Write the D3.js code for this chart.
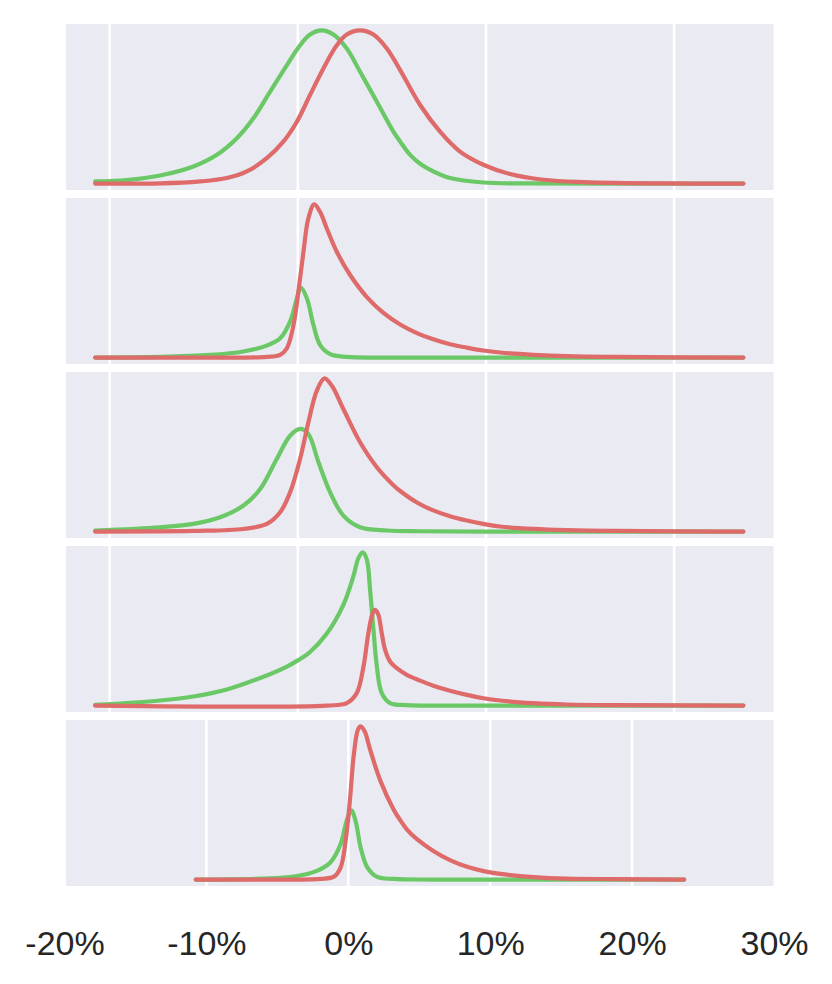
<!DOCTYPE html>
<html><head><meta charset="utf-8">
<script src="https://cdn.jsdelivr.net/npm/d3@7"></script>
<style>body{margin:0;background:#fff}</style>
</head><body><svg id="chart" width="832" height="984"></svg>
<script>
// ---- data (x in %, y = relative density) ----
const xTicks = [-20, -10, 0, 10, 20, 30];
const xTickLabels = ["-20%", "-10%", "0%", "10%", "20%", "30%"];
const gridTicks = [-10, 0, 10, 20];
const topDomain = [-12.32, 25.28];
const bottomDomain = [-20, 30];

const p1Green = [[-10.77,0.014],[-9.09,0.023],[-7.32,0.053],[-5.55,0.112],[-4.30,0.188],[-3.24,0.296],[-2.36,0.426],[-1.47,0.600],[-0.58,0.773],[0.12,0.903],[0.65,0.973],[1.27,1.0],[1.89,0.973],[2.60,0.882],[3.31,0.730],[4.20,0.534],[5.08,0.339],[5.44,0.274],[5.97,0.187],[6.50,0.129],[7.20,0.079],[8.09,0.036],[9.86,0.007],[12.50,0.001],[18.0,0],[23.68,0]];
const p1Red = [[-10.77,0],[-7.32,0.001],[-5.19,0.014],[-3.77,0.036],[-2.71,0.079],[-1.65,0.166],[-0.77,0.274],[-0.05,0.404],[0.65,0.578],[1.36,0.752],[2.07,0.903],[2.60,0.973],[3.31,1.0],[4.02,0.973],[4.73,0.882],[5.44,0.741],[6.50,0.513],[7.56,0.339],[8.62,0.209],[9.86,0.123],[11.28,0.062],[13.05,0.025],[15.18,0.010],[19.61,0.001],[23.68,0]];

const p2Green = [[-10.77,0],[-7.32,0.004],[-4.66,0.017],[-2.89,0.04],[-1.65,0.078],[-0.94,0.126],[-0.41,0.235],[-0.05,0.387],[0.16,0.457],[0.48,0.387],[0.83,0.213],[1.18,0.083],[1.72,0.022],[2.60,0.004],[5,0],[23.68,0]];
const p2Red = [[-10.77,0],[-5.55,0],[-1.65,0.004],[-0.94,0.018],[-0.58,0.061],[-0.23,0.212],[0.03,0.431],[0.30,0.691],[0.56,0.909],[0.87,1.0],[1.18,0.952],[1.54,0.843],[2.07,0.691],[2.78,0.539],[3.67,0.395],[4.55,0.292],[5.44,0.216],[6.33,0.160],[7.20,0.119],[8.09,0.087],[8.98,0.065],[9.86,0.046],[10.75,0.033],[12.52,0.018],[14.29,0.009],[16.95,0.004],[23.68,0]];

const p3Green = [[-10.77,0.007],[-7.32,0.028],[-5.55,0.050],[-4.13,0.093],[-2.89,0.170],[-2.00,0.278],[-1.12,0.474],[-0.41,0.626],[0.12,0.670],[0.56,0.637],[1.10,0.452],[1.72,0.256],[2.42,0.104],[3.31,0.028],[4.73,0.007],[6.50,0.002],[10,0],[23.68,0]];
const p3Red = [[-10.77,0],[-5.55,0.004],[-2.89,0.017],[-1.65,0.05],[-0.94,0.126],[-0.41,0.256],[0.12,0.474],[0.56,0.713],[1.01,0.920],[1.41,1.0],[1.81,0.952],[2.42,0.800],[3.31,0.583],[4.20,0.420],[5.08,0.303],[5.44,0.265],[6.33,0.190],[7.20,0.138],[8.09,0.100],[8.98,0.072],[9.86,0.050],[10.75,0.033],[12.52,0.017],[14.29,0.009],[16.95,0.004],[23.68,0]];

const p4Green = [[-10.77,0.004],[-7.32,0.033],[-5.55,0.059],[-3.77,0.105],[-2.00,0.180],[-0.58,0.255],[0.0,0.295],[0.65,0.350],[1.54,0.470],[2.42,0.658],[2.95,0.843],[3.22,0.963],[3.45,1.0],[3.67,0.952],[3.84,0.756],[4.02,0.495],[4.20,0.255],[4.46,0.081],[4.90,0.016],[5.79,0.003],[8,0],[23.68,0]];
const p4Red = [[-10.77,0],[1.54,0],[2.60,0.016],[3.13,0.081],[3.49,0.255],[3.75,0.473],[3.98,0.603],[4.11,0.625],[4.28,0.593],[4.46,0.473],[4.64,0.364],[4.90,0.288],[5.26,0.244],[5.79,0.201],[6.50,0.163],[7.20,0.130],[8.09,0.097],[8.98,0.070],[9.86,0.048],[10.75,0.033],[12.52,0.016],[14.29,0.007],[16.95,0.003],[23.68,0]];

const p5Green = [[-10.75,0],[-6.17,0.006],[-3.83,0.019],[-2.18,0.058],[-1.25,0.113],[-0.54,0.232],[-0.12,0.383],[0.21,0.452],[0.51,0.383],[0.87,0.210],[1.34,0.080],[2.04,0.017],[3.21,0.004],[6,0],[23.67,0]];
const p5Red = [[-10.75,0],[-6.17,0],[-1.95,0.005],[-1.01,0.019],[-0.54,0.080],[-0.19,0.253],[0.11,0.513],[0.39,0.816],[0.68,0.979],[0.87,1.0],[1.15,0.968],[1.57,0.838],[2.27,0.643],[3.21,0.455],[3.68,0.385],[4.15,0.325],[4.86,0.262],[6.02,0.185],[7.20,0.125],[8.37,0.083],[9.54,0.055],[10.72,0.037],[13.06,0.016],[15.40,0.006],[18.93,0.003],[23.67,0]];

const greenSeries = [p1Green, p2Green, p3Green, p4Green, p5Green];
const redSeries = [p1Red, p2Red, p3Red, p4Red, p5Red];

// ---- layout ----
const svg = d3.select("#chart");
const W = 832, H = 984;
svg.append("rect").attr("width", W).attr("height", H).attr("fill", "#ffffff");

const panelLeft = 66, panelRight = 773.5;
const panelTops = [24, 198, 372, 546, 720];
const panelH = 166;
const GREEN = "#6ac866", RED = "#de6a6a", BG = "#eaeaf2";

const xTop = d3.scaleLinear().domain(topDomain).range([panelLeft, panelRight]);
const xBottom = d3.scaleLinear().domain(bottomDomain).range([64.5, 774]);

panelTops.forEach((top, i) => {
  const isBottom = i === panelTops.length - 1;
  const x = isBottom ? xBottom : xTop;
  const y = d3.scaleLinear().domain([-0.042, 1.042]).range([top + panelH, top]);
  const g = svg.append("g");
  const clipId = "clip" + i;
  svg.append("clipPath").attr("id", clipId).append("rect")
    .attr("x", panelLeft).attr("y", top).attr("width", panelRight - panelLeft).attr("height", panelH);

  g.append("rect").attr("x", panelLeft).attr("y", top)
    .attr("width", panelRight - panelLeft).attr("height", panelH).attr("fill", BG);

  g.append("g").attr("clip-path", `url(#${clipId})`)
    .selectAll("line").data(gridTicks).join("line")
    .attr("x1", d => x(d)).attr("x2", d => x(d))
    .attr("y1", top).attr("y2", top + panelH)
    .attr("stroke", "#ffffff").attr("stroke-width", 2.6);

  const line = d3.line().x(d => x(d[0])).y(d => y(d[1])).curve(d3.curveCatmullRom.alpha(0.5));
  g.append("path").datum(greenSeries[i]).attr("d", line)
    .attr("fill", "none").attr("stroke", GREEN).attr("stroke-width", 4.2)
    .attr("stroke-linecap", "round").attr("stroke-linejoin", "round");
  g.append("path").datum(redSeries[i]).attr("d", line)
    .attr("fill", "none").attr("stroke", RED).attr("stroke-width", 4.2)
    .attr("stroke-linecap", "round").attr("stroke-linejoin", "round");

  if (isBottom) {
    const axis = d3.axisBottom(x).tickValues(xTicks)
      .tickFormat((d, k) => xTickLabels[k]).tickSize(0).tickPadding(0);
    const ag = svg.append("g").attr("transform", `translate(0, 930)`).call(axis);
    ag.select(".domain").remove();
    ag.selectAll("text")
      .attr("dy", 0).attr("y", 25)
      .attr("font-family", "'Liberation Sans', Arial, sans-serif")
      .attr("font-size", 34).attr("fill", "#262626");
  }
});
</script></body></html>
